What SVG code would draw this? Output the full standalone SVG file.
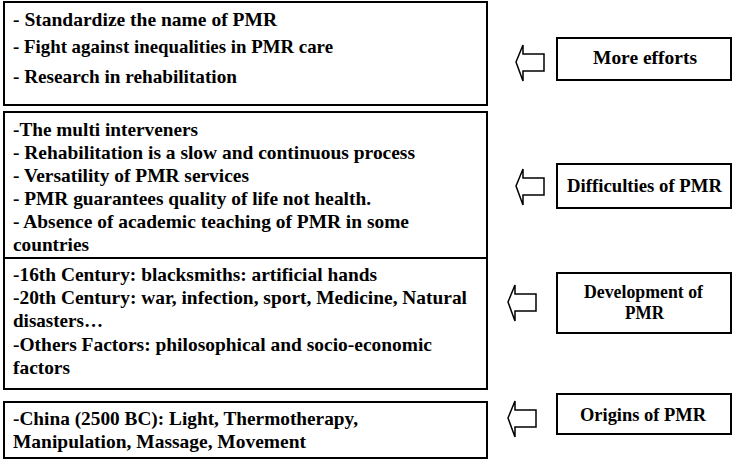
<svg xmlns="http://www.w3.org/2000/svg" width="750" height="465" viewBox="0 0 750 465">
<style>
.b{fill:#fff;stroke:#000;stroke-width:2}
.a{fill:#fff;stroke:#000;stroke-width:1.5}
text{font-family:"Liberation Serif",serif;font-weight:bold;font-size:19px;fill:#000}
.c{font-size:19px}
</style>
<rect width="750" height="465" fill="#fff"/>
<g id="box1"><rect class="b" x="4" y="2" width="483" height="103"/>
<text x="13" y="26" textLength="264" lengthAdjust="spacingAndGlyphs">- Standardize the name of PMR</text>
<text x="13" y="53" textLength="320" lengthAdjust="spacingAndGlyphs">- Fight against inequalities in PMR care</text>
<text x="13" y="83" textLength="224" lengthAdjust="spacingAndGlyphs">- Research in rehabilitation</text></g>
<g id="box2"><rect class="b" x="4" y="112" width="483" height="146"/>
<text x="13" y="136" textLength="185" lengthAdjust="spacingAndGlyphs">-The multi interveners</text>
<text x="13" y="159" textLength="402" lengthAdjust="spacingAndGlyphs">- Rehabilitation is a slow and continuous process</text>
<text x="13" y="182" textLength="236" lengthAdjust="spacingAndGlyphs">- Versatility of PMR services</text>
<text x="13" y="205" textLength="358" lengthAdjust="spacingAndGlyphs">- PMR guarantees quality of life not health.</text>
<text x="13" y="228" textLength="396" lengthAdjust="spacingAndGlyphs">- Absence of academic teaching of PMR in some</text>
<text x="13" y="251" textLength="76" lengthAdjust="spacingAndGlyphs">countries</text></g>
<g id="box3"><rect class="b" x="4" y="258" width="483" height="131"/>
<text x="13" y="281" textLength="364" lengthAdjust="spacingAndGlyphs">-16th Century: blacksmiths: artificial hands</text>
<text x="13" y="304" textLength="454" lengthAdjust="spacingAndGlyphs">-20th Century: war, infection, sport, Medicine, Natural</text>
<text x="13" y="327" textLength="90" lengthAdjust="spacingAndGlyphs">disasters…</text>
<text x="13" y="351" textLength="419" lengthAdjust="spacingAndGlyphs">-Others Factors: philosophical and socio-economic</text>
<text x="13" y="374" textLength="57" lengthAdjust="spacingAndGlyphs">factors</text></g>
<g id="box4"><rect class="b" x="4" y="402" width="483" height="56"/>
<text x="13" y="425" textLength="345" lengthAdjust="spacingAndGlyphs">-China (2500 BC): Light, Thermotherapy,</text>
<text x="13" y="448" textLength="293" lengthAdjust="spacingAndGlyphs">Manipulation, Massage, Movement</text></g>
<g id="more"><rect class="b" x="557" y="38" width="174" height="42"/><text class="c" x="593" y="64" textLength="104" lengthAdjust="spacingAndGlyphs">More efforts</text></g>
<g id="diff"><rect class="b" x="557" y="164" width="174" height="44"/><text class="c" x="567" y="192" textLength="155" lengthAdjust="spacingAndGlyphs">Difficulties of PMR</text></g>
<g id="dev"><rect class="b" x="557" y="273" width="174" height="60"/><text class="c" x="584" y="298" textLength="119" lengthAdjust="spacingAndGlyphs">Development of</text><text class="c" x="625" y="319" textLength="39" lengthAdjust="spacingAndGlyphs">PMR</text></g>
<g id="orig"><rect class="b" x="557" y="394" width="174" height="40"/><text class="c" x="580" y="421" textLength="126" lengthAdjust="spacingAndGlyphs">Origins of PMR</text></g>
<g id="connectors">
<path class="a" d="M516,62 L523,45 L523,54 L544,54 L544,71 L523,71 L523,81 Z"/>
<path class="a" d="M516,186 L523,169 L523,178 L544,178 L544,195 L523,195 L523,205 Z"/>
<path class="a" d="M508,302 L515,285 L515,294 L536,294 L536,311 L515,311 L515,321 Z"/>
<path class="a" d="M508,418 L515,401 L515,410 L536,410 L536,427 L515,427 L515,437 Z"/>
</g>
</svg>
